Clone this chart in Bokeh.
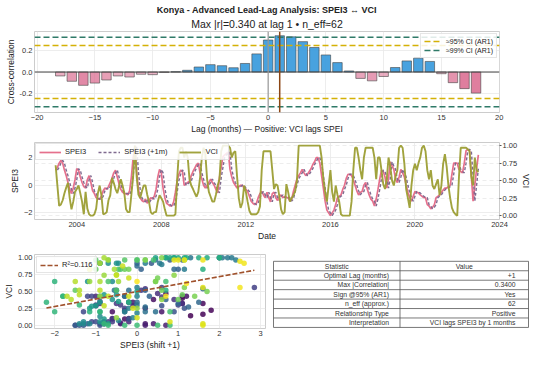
import numpy as np
from bokeh.plotting import figure
from bokeh.models import (Range1d, LinearAxis, FixedTicker, Span, Legend, LegendItem,
                          ColumnDataSource, NumeralTickFormatter, Title, LinearColorMapper, Grid)
from bokeh.layouts import column, row
from bokeh.embed import file_html
from bokeh.resources import INLINE
from bokeh.core.properties import value
from bokeh.palettes import Viridis256

FONT = "Liberation Sans"
REGION = "Konya"
START_YEAR = 2003

# ---------------- data ----------------
LAGS = list(range(-18, 19))
XCORR = [-0.037, -0.087, -0.125, -0.104, -0.075, -0.037, -0.047, -0.021, -0.025, -0.003,
         0.002, 0.016, 0.047, 0.069, 0.059, 0.040, 0.080, 0.170, 0.300, 0.340,
         0.330, 0.285, 0.230, 0.160, 0.088, 0.010, -0.060, -0.083, -0.042, 0.042,
         0.104, 0.130, 0.099, -0.016, -0.100, -0.156, -0.198]
N_EFF = 62

SPEI3 = [
    1.1, 1.3, 1.6, 1.8, 1.6, 1.1, 0.7, 0.2, -0.3, -0.6, -0.2, 0.4,          # 2003
    1.2, 1.1, 0.6, 0.2, -0.1, -0.2, 0.4, 0.7, 0.2, -0.4, -0.6, -0.9,        # 2004
    -1.0, -1.0, -0.8, -0.4, -0.2, -0.3, -0.1, 0.2, 0.5, 0.9, 1.1, 0.6,      # 2005
    0.1, -0.3, -0.5, -0.6, -0.6, -0.7, -0.4, 0.6, 2.0, 2.85, 1.0, -0.3,     # 2006
    -0.9, -1.1, -1.2, -1.0, -1.3, -1.1, -0.9, -1.0, -0.8, -0.3, 0.6, 1.15,  # 2007
    0.9, -0.2, -0.9, -1.3, -1.4, -1.5, -1.5, -1.2, -0.5, 0.35, 0.8, 1.1,    # 2008
    1.0, 0.0, 0.1, 0.2, 0.3, 0.7, 1.0, 1.25, 1.5, 1.6, 0.9, 0.45,           # 2009
    0.0, -0.2, 0.0, 0.2, 0.45, 0.2, 0.0, -0.3, -0.55, 0.55, 1.3, 2.07,      # 2010
    2.2, 2.3, 2.4, 1.15, 0.6, 0.2, 0.0, -0.2, -0.1, 0.0, 0.0, -0.2,         # 2011
    -0.3, -0.45, -0.8, -1.15, -1.3, -1.4, -1.3, -0.9, -0.6, -0.45, -0.7, -0.9,  # 2012
    -0.5, -0.9, -1.2, -0.6, -0.5, -0.9, -1.1, -0.8, -0.7, -0.9, -0.8, -0.9,     # 2013
    -0.9, -1.15, -1.0, -0.45, 0.0, 0.45, 0.7, 0.9, 1.15, 0.9, 0.7, 0.8,     # 2014
    1.0, 1.2, 1.5, 1.7, 2.0, 2.0, 1.6, 0.7, -0.2, -1.15, -1.8, -2.0,        # 2015
    -2.2, -2.0, -1.8, -1.4, -0.9, -0.8, -0.7, -0.3, 0.0, 0.5, 0.8, 0.8,     # 2016
    0.7, 0.4, 0.0, -0.4, -0.7, -0.5, -0.45, 0.0, 0.2, -0.3, -0.7, -1.0,     # 2017
    -1.15, -1.5, -1.0, -0.3, 0.45, 1.1, 1.0, 0.6, -0.2, 0.5, 1.7, 1.4,      # 2018
    1.15, 0.45, 0.2, 0.6, 1.15, 0.9, 0.6, 0.0, -0.5, -0.9, -1.15, -0.8,     # 2019
    -0.45, -0.5, -0.55, -0.7, -0.8, -0.9, -0.9, -1.4, -1.5, -1.7, -1.6, -1.4,   # 2020
    -0.9, -0.8, -0.7, -0.5, -0.35, -0.2, -0.2, -0.1, 0.0, 0.8, 1.6, 1.6,    # 2021
    1.6, 1.15, 1.0, 0.9, 1.6, 2.5, 2.6, 2.5, 0.7, -1.15, 0.0, 1.2,          # 2022
    2.2,                                                                    # 2023
]

VCI = [
    0.72, 0.43, 0.14, 0.16, 0.22, 0.32, 0.40, 0.47, 0.25, 0.09, 0.20, 0.34,  # 2003
    0.38, 0.43, 0.32, 0.20, 0.02, 0.34, 0.10, 0.02, 0.00, 0.00, 0.02, 0.10,  # 2004
    0.32, 0.43, 0.29, 0.02, 0.03, 0.05, 0.22, 0.29, 0.54, 0.47, 0.38, 0.32,  # 2005
    0.42, 0.52, 0.43, 0.32, 0.09, 0.05, 0.05, 0.30, 0.56, 1.00, 0.56, 0.30,  # 2006
    0.25, 0.35, 0.43, 0.43, 0.30, 0.20, 0.05, 0.02, 0.05, 0.05, 0.20, 0.29,  # 2007
    0.25, 0.20, 0.09, 0.00, 0.00, 0.00, 0.00, 0.00, 0.02, 0.52, 0.92, 0.97,  # 2008
    0.97, 0.83, 0.92, 0.83, 0.52, 0.43, 0.38, 0.32, 0.27, 0.34, 0.54, 0.83,  # 2009
    0.97, 0.88, 0.52, 0.34, 0.27, 0.20, 0.20, 0.30, 0.43, 0.52, 0.92, 1.00,  # 2010
    1.00, 1.00, 1.00, 0.97, 0.83, 0.90, 0.92, 0.56, 0.25, 0.11, 0.18, 0.43,  # 2011
    0.34, 0.20, 0.07, 0.02, 0.02, 0.02, 0.02, 0.05, 0.13, 0.65, 0.92, 0.92,  # 2012
    0.92, 0.92, 0.92, 0.65, 0.38, 0.45, 0.43, 0.28, 0.09, 0.02, 0.05, 0.45,  # 2013
    0.34, 0.20, 0.25, 0.29, 0.35, 0.50, 1.00, 1.00, 1.00, 1.00, 1.00, 1.00,  # 2014
    1.00, 1.00, 1.00, 1.00, 1.00, 1.00, 1.00, 0.83, 0.52, 0.34, 0.20, 0.43,  # 2015
    0.65, 0.34, 0.20, 0.43, 0.30, 0.20, 0.02, 0.00, 0.00, 0.00, 0.00, 0.00,  # 2016
    0.20, 0.65, 0.97, 0.97, 0.83, 0.65, 0.52, 0.83, 0.97, 0.97, 0.97, 0.97,  # 2017
    0.97, 0.83, 0.52, 0.83, 0.83, 0.65, 0.45, 0.38, 0.52, 0.83, 0.70, 0.50,  # 2018
    0.43, 0.56, 0.65, 0.97, 1.00, 0.97, 0.74, 0.38, 0.25, 0.11, 0.43, 0.65,  # 2019
    0.74, 0.65, 0.75, 0.83, 0.97, 1.00, 0.92, 0.65, 0.52, 0.65, 0.43, 0.38,  # 2020
    0.45, 0.52, 0.29, 0.43, 0.74, 0.88, 0.70, 0.43, 0.25, 0.11, 0.05, 0.02,  # 2021
    0.00, 0.56, 0.97, 0.97, 0.97, 0.97, 0.95, 0.92, 0.56, 0.43, 0.83, 0.65,  # 2022
    0.62,                                                                    # 2023
]

TREND_SLOPE = 0.111
TREND_INTERCEPT = 0.499
R2 = 0.116

TABLE_HEADER = ["Statistic", "Value"]
TABLE_STAT = ["Optimal Lag (months)", "Max |Correlation|", "Sign @95% (AR1)",
              "n_eff (approx.)", "Relationship Type", "Interpretation"]
TABLE_VALUE = ["+1", "0.3400", "Yes", "62", "Positive", "VCI lags SPEI3 by 1 months"]

BAR_XTICKS = [-20, -15, -10, -5, 0, 5, 10, 15, 20]
BAR_YTICKS = [-0.2, 0.0, 0.2]
TS_XTICKS = [2004, 2008, 2012, 2016, 2020, 2024]
TS_YTICKS = [-2, 0, 2]
VCI_TICKS = [0.0, 0.25, 0.5, 0.75, 1.0]
SC_XTICKS = [-2, -1, 0, 1, 2, 3]

# ---------------- styling helpers ----------------
def style(p, tick_size="7.5px"):
    p.background_fill_color = "white"
    p.border_fill_color = "white"
    p.outline_line_color = "#cccccc"
    p.outline_line_width = 1
    p.grid.grid_line_color = "#e8e8e8"
    p.grid.grid_line_width = 0.8
    for ax in p.axis:
        ax.axis_line_color = None
        ax.major_tick_line_color = None
        ax.minor_tick_line_color = None
        ax.major_tick_out = 0
        ax.major_tick_in = 0
        ax.minor_tick_out = 0
        ax.minor_tick_in = 0
        ax.major_label_text_font = FONT
        ax.major_label_text_font_size = tick_size
        ax.major_label_text_color = "#333333"
        ax.axis_label_text_font = FONT
        ax.axis_label_text_font_size = "8.5px"
        ax.axis_label_text_font_style = "normal"
        ax.axis_label_text_color = "#222222"
        ax.major_label_standoff = 2
        ax.axis_label_standoff = 1


def style_legend(lg, size="7px"):
    lg.label_text_font = FONT
    lg.label_text_font_size = size
    lg.label_text_color = "#222222"
    lg.glyph_width = 18
    lg.glyph_height = 8
    lg.label_height = 8
    lg.label_standoff = 4
    lg.padding = 3
    lg.spacing = 1
    lg.margin = 2
    lg.border_line_color = "#cccccc"
    lg.border_line_width = 0.8
    lg.background_fill_alpha = 0.85


# ---------------- 1) lead-lag bar chart ----------------
abs_r = [abs(v) for v in XCORR]
best_i = int(np.argmax(abs_r))
best_lag = LAGS[best_i]
max_r = abs_r[best_i]
ci95 = 1.96 / np.sqrt(N_EFF)
ci99 = 2.576 / np.sqrt(N_EFF)

xr_bar = Range1d(-20.23, 20.03)
p1 = figure(width=534, height=136, x_range=xr_bar, y_range=Range1d(-0.38, 0.38),
            output_backend="svg", toolbar_location=None,
            min_border_left=34, min_border_right=21, min_border_top=31, min_border_bottom=23,
            title=f"{REGION} - Advanced Lead-Lag Analysis: SPEI3 ↔ VCI")
p1.title.align = "center"
p1.title.text_font = FONT
p1.title.text_font_size = "9px"
p1.title.text_font_style = "bold"
p1.title.text_color = "#222222"
p1.title.standoff = 0
p1.add_layout(Title(text=f"Max |r|={max_r:.3f} at lag {best_lag} • n_eff≈{N_EFF}", align="center",
                    text_font=FONT, text_font_size="10.5px", text_font_style="normal",
                    text_color="#222222", standoff=3), "above")

bar_colors = ["#3498db" if v >= 0 else "#db7093" for v in XCORR]
bar_alpha = [0.9 if v >= 0 else min(0.9, 0.45 + abs(v) * 3) for v in XCORR]
src_bar = ColumnDataSource(dict(lag=LAGS, r=XCORR, color=bar_colors, alpha=bar_alpha))
p1.vbar(x="lag", top="r", width=0.82, source=src_bar, fill_color="color", fill_alpha="alpha",
        line_color="#444444", line_width=0.6)

p1.add_layout(Span(location=0, dimension="width", line_color="#444444", line_width=1))
p1.add_layout(Span(location=0, dimension="height", line_color="#999999", line_width=1.2))
p1.add_layout(Span(location=best_lag, dimension="height", line_color="#8b4513", line_width=1.5))

xs_full = [xr_bar.start, xr_bar.end]
r95 = p1.line(xs_full, [ci95, ci95], line_color="#d4b106", line_width=1.5, line_dash="6 3")
p1.line(xs_full, [-ci95, -ci95], line_color="#d4b106", line_width=1.5, line_dash="6 3")
r99 = p1.line(xs_full, [ci99, ci99], line_color="#2f7a68", line_width=1.5, line_dash="6 3")
p1.line(xs_full, [-ci99, -ci99], line_color="#2f7a68", line_width=1.5, line_dash="6 3")

lg1 = Legend(items=[LegendItem(label="≈95% CI (AR1)", renderers=[r95]),
                    LegendItem(label="≈99% CI (AR1)", renderers=[r99])],
             location="top_right")
style_legend(lg1)
p1.add_layout(lg1)

p1.xaxis.ticker = FixedTicker(ticks=BAR_XTICKS)
p1.yaxis.ticker = FixedTicker(ticks=BAR_YTICKS)
p1.yaxis.formatter = NumeralTickFormatter(format="0.0")
p1.xaxis.axis_label = "Lag (months) — Positive: VCI lags SPEI"
p1.yaxis.axis_label = "Cross-correlation"
style(p1)

# ---------------- 2) time series ----------------
n = len(SPEI3)
t = [START_YEAR + m / 12.0 for m in range(n)]
spei_shift = [float("nan")] + SPEI3[:-1]

p2 = figure(width=534, height=107, x_range=Range1d(2002.0, 2024.0), y_range=Range1d(-2.48, 3.1),
            output_backend="svg", toolbar_location=None,
            min_border_left=34, min_border_right=27, min_border_top=6, min_border_bottom=22)
p2.extra_y_ranges = {"vci": Range1d(-0.055, 1.045)}
ax_r = LinearAxis(y_range_name="vci", axis_label="VCI", ticker=FixedTicker(ticks=VCI_TICKS),
                  formatter=NumeralTickFormatter(format="0.00"))
p2.add_layout(ax_r, "right")
p2.add_layout(Grid(dimension=1, ticker=FixedTicker(ticks=VCI_TICKS), y_range_name="vci",
                   grid_line_color="#e2e2e2", grid_line_dash="4 3", grid_line_width=0.8))

l_s = p2.line(t, SPEI3, line_color="#e2607f", line_width=1.7, line_alpha=0.9)
l_sh = p2.line(t, spei_shift, line_color="#7f6a8f", line_width=1.4, line_dash="3 2")
l_v = p2.line(t, VCI, y_range_name="vci", line_color="#9c9e34", line_width=1.9, line_alpha=0.95)

lg2 = Legend(items=[LegendItem(label="SPEI3", renderers=[l_s]),
                    LegendItem(label="SPEI3 (+1m)", renderers=[l_sh]),
                    LegendItem(label="VCI", renderers=[l_v])],
             location="top_left", orientation="horizontal")
style_legend(lg2, "7.5px")
lg2.glyph_width = 22
lg2.spacing = 12
lg2.margin = 1
p2.add_layout(lg2)

p2.xaxis.ticker = FixedTicker(ticks=TS_XTICKS)
p2.xaxis.formatter = NumeralTickFormatter(format="0")
p2.yaxis[0].ticker = FixedTicker(ticks=TS_YTICKS)
p2.xaxis.axis_label = "Date"
p2.yaxis[0].axis_label = "SPEI3"
style(p2)
ax_r.major_tick_line_color = "#555555"
ax_r.major_tick_out = 2
ax_r.major_label_standoff = 1

# ---------------- 3) scatter ----------------
sc_x = SPEI3[:-1]
sc_y = VCI[1:]
sc_t = list(range(len(sc_x)))
mapper = LinearColorMapper(palette=Viridis256, low=0, high=len(sc_x) - 1)

ROW_H_PX = 109
SC_TOP, SC_BOTTOM = 11, 22
p3 = figure(width=270, height=ROW_H_PX, x_range=Range1d(-2.49, 3.12), y_range=Range1d(-0.05, 1.05),
            output_backend="svg", toolbar_location=None,
            min_border_left=33, min_border_right=5, min_border_top=SC_TOP, min_border_bottom=SC_BOTTOM)
p3.scatter(x="x", y="y", source=ColumnDataSource(dict(x=sc_x, y=sc_y, t=sc_t)),
           size=5.5, fill_color={"field": "t", "transform": mapper}, line_color=None, fill_alpha=0.85)
tx = [min(sc_x), max(sc_x)]
ty = [TREND_INTERCEPT + TREND_SLOPE * v for v in tx]
l_tr = p3.line(tx, ty, line_color="#a0522d", line_width=1.6, line_dash="5 2")
lg3 = Legend(items=[LegendItem(label=f"R²={R2:.3f}", renderers=[l_tr])], location="top_left")
style_legend(lg3, "7.5px")
p3.add_layout(lg3)
p3.xaxis.ticker = FixedTicker(ticks=SC_XTICKS)
p3.yaxis.ticker = FixedTicker(ticks=VCI_TICKS)
p3.yaxis.formatter = NumeralTickFormatter(format="0.00")
p3.xaxis.axis_label = "SPEI3 (shift +1)"
p3.yaxis.axis_label = "VCI"
style(p3)

# ---------------- 4) table ----------------
TW = 264
p4 = figure(width=TW, height=ROW_H_PX, x_range=Range1d(0, TW),
            y_range=Range1d(ROW_H_PX - SC_BOTTOM, SC_TOP),
            output_backend="svg", toolbar_location=None, x_axis_location=None, y_axis_location=None,
            min_border_left=0, min_border_right=0, min_border_top=SC_TOP, min_border_bottom=SC_BOTTOM)
p4.outline_line_color = None
p4.xgrid.visible = False
p4.ygrid.visible = False
p4.background_fill_color = "white"
p4.border_fill_color = "white"

T_LEFT, T_DIV, T_RIGHT, T_TOP, ROW_H = 3, 129.5, 258, 18, 9.7
nrows = len(TABLE_STAT) + 1
hy = [T_TOP + i * ROW_H for i in range(nrows + 1)]
p4.segment(x0=[T_LEFT] * len(hy), y0=hy, x1=[T_RIGHT] * len(hy), y1=hy,
           line_color="#555555", line_width=0.8)
vx = [T_LEFT, T_DIV, T_RIGHT]
p4.segment(x0=vx, y0=[hy[0]] * 3, x1=vx, y1=[hy[-1]] * 3, line_color="#555555", line_width=0.8)

cy = [T_TOP + (i + 0.5) * ROW_H for i in range(nrows)]
p4.text(x=[(T_LEFT + T_DIV) / 2, (T_DIV + T_RIGHT) / 2], y=[cy[0], cy[0]], text=TABLE_HEADER,
        text_align="center", text_baseline="middle", text_font=value(FONT),
        text_font_size="6.8px", text_color="#333333")
p4.text(x=[T_DIV - 11] * len(TABLE_STAT), y=cy[1:], text=TABLE_STAT,
        text_align="right", text_baseline="middle", text_font=value(FONT),
        text_font_size="6.8px", text_color="#333333")
p4.text(x=[T_RIGHT - 13] * len(TABLE_VALUE), y=cy[1:], text=TABLE_VALUE,
        text_align="right", text_baseline="middle", text_font=value(FONT),
        text_font_size="6.8px", text_color="#333333")

layout = column(p1, p2, row(p3, p4))
open("out.html", "w").write(file_html(layout, INLINE))
